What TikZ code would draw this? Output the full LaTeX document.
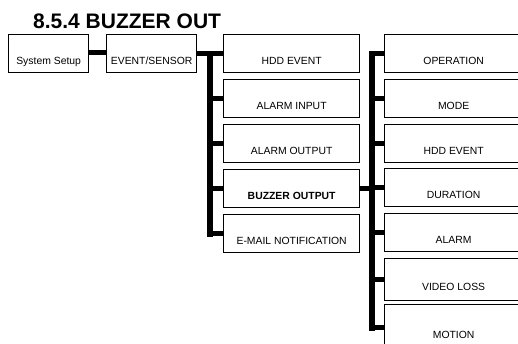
\documentclass[tikz,border=0pt]{standalone}
\usepackage{fontspec}
\setmainfont{Liberation Sans}
\begin{document}
\begin{tikzpicture}[x=1pt,y=-1pt,
  box/.style={draw=black,line width=1.3pt,fill=white,rectangle,inner xsep=2pt,inner ysep=0pt,
    minimum height=38pt,text height=26pt,text depth=4pt,anchor=north west,
    font=\fontsize{10.4}{12}\selectfont},
  conn/.style={line width=6pt,line cap=rect},
  br/.style={line width=5.5pt}]
\clip (0,0) rectangle (518,343);
\fill[white] (0,0) rectangle (518,343);
\node[anchor=base west,inner sep=0pt,font=\fontsize{21}{24}\selectfont\bfseries] (title) at (33,28) {8.5.4 BUZZER OUT};
\node[box,minimum width=80pt] (sys) at (8,34) {System Setup};
\node[box,minimum width=90pt] (ev) at (106,34) {EVENT/SENSOR};
% middle column
\node[box,minimum width=136pt] (m1) at (223,34) {HDD EVENT};
\node[box,minimum width=136pt] (m2) at (223,79) {ALARM INPUT};
\node[box,minimum width=136pt] (m3) at (223,124) {ALARM OUTPUT};
\node[box,minimum width=136pt,font=\fontsize{10.4}{12}\selectfont\bfseries] (m4) at (223,169) {BUZZER OUTPUT};
\node[box,minimum width=136pt] (m5) at (223,214) {E-MAIL NOTIFICATION};
% right column
\node[box,minimum width=138pt] (r1) at (384,34) {OPERATION};
\node[box,minimum width=138pt] (r2) at (384,79) {MODE};
\node[box,minimum width=138pt] (r3) at (384,124) {HDD EVENT};
\node[box,minimum width=138pt] (r4) at (384,168) {DURATION};
\node[box,minimum width=138pt] (r5) at (384,213) {ALARM};
\node[box,minimum width=138pt,minimum height=42pt] (r6) at (384,258) {VIDEO LOSS};
\node[box,minimum width=138pt,minimum height=46pt] (r7) at (384,304) {MOTION};
% connectors
\coordinate (lb) at (209.5,0);
\coordinate (rb) at (372,0);
\draw[br] ([yshift=1pt]sys.east) -- ([yshift=1pt]ev.west);
\draw[br] (ev.east) -- (m1.west);
\draw[conn] (lb |- m1.west) -- (lb |- m5.west);
\foreach \n in {m2,m3,m4,m5}{\draw[br] (lb |- \n.west) -- (\n.west);}
\draw[br] (m4.east) -- (rb |- m4.east);
\draw[conn] (rb |- r1.west) -- (rb |- r7.west);
\foreach \n in {r1,r2,r3,r4,r5,r6,r7}{\draw[br] (rb |- \n.west) -- (\n.west);}
\end{tikzpicture}
\end{document}
